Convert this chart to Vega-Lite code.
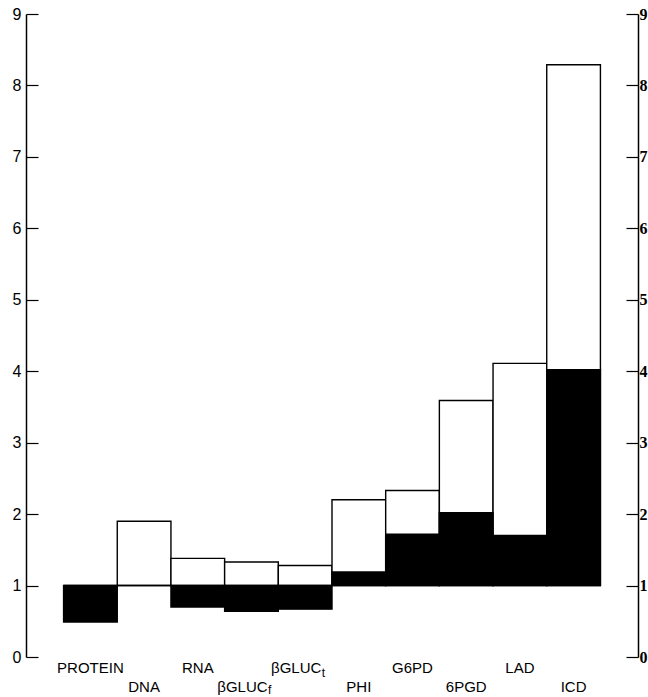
{
  "$schema": "https://vega.github.io/schema/vega-lite/v6.json",
  "width": 612,
  "height": 643,
  "autosize": "none",
  "padding": {"left": 26, "top": 14, "right": 10, "bottom": 40},
  "background": "white",
  "config": {"view": {"stroke": null}},
  "data": {
    "values": [
      {"cat": "PROTEIN", "w": 1.0, "b": 0.49, "sub": ""},
      {"cat": "DNA", "w": 1.9, "b": 1.0, "sub": ""},
      {"cat": "RNA", "w": 1.38, "b": 0.7, "sub": ""},
      {"cat": "βGLUCf", "w": 1.33, "b": 0.64, "sub": "f"},
      {"cat": "βGLUCt", "w": 1.28, "b": 0.67, "sub": "t"},
      {"cat": "PHI", "w": 2.2, "b": 1.19, "sub": ""},
      {"cat": "G6PD", "w": 2.33, "b": 1.72, "sub": ""},
      {"cat": "6PGD", "w": 3.59, "b": 2.02, "sub": ""},
      {"cat": "LAD", "w": 4.11, "b": 1.7, "sub": ""},
      {"cat": "ICD", "w": 8.29, "b": 4.02, "sub": ""}
    ]
  },
  "encoding": {
    "x": {
      "field": "cat",
      "type": "nominal",
      "sort": null,
      "scale": {"paddingInner": 0, "paddingOuter": 0.7},
      "axis": {
        "title": null,
        "domain": false,
        "ticks": false,
        "labelAngle": 0,
        "labelFont": "Liberation Sans",
        "labelFontSize": 15,
        "labelColor": "black",
        "labelBaseline": "top",
        "labelExpr": "datum.value == 'βGLUCf' || datum.value == 'βGLUCt' ? 'βGLUC' : datum.value",
        "labelOffset": {"condition": {"test": "datum.value == 'βGLUCf' || datum.value == 'βGLUCt'", "value": -9}, "value": 0},
        "labelPadding": {"condition": {"test": "indexof(['DNA','βGLUCf','PHI','6PGD','ICD'], datum.value) >= 0", "value": 22}, "value": 3}
      }
    }
  },
  "layer": [
    {
      "mark": {"type": "bar", "fill": "white", "stroke": "black", "strokeWidth": 1.4},
      "encoding": {
        "y": {
          "field": "w",
          "type": "quantitative",
          "scale": {"domain": [0, 9], "nice": false, "zero": true},
          "axis": {
            "orient": "left",
            "title": null,
            "values": [0, 1, 2, 3, 4, 5, 6, 7, 8, 9],
            "grid": false,
            "domainColor": "black",
            "domainWidth": 1.5,
            "tickColor": "black",
            "tickWidth": 1.2,
            "tickSize": -12,
            "labelPadding": 17,
            "labelFont": "Liberation Sans",
            "labelFontSize": 16,
            "labelColor": "black"
          }
        },
        "y2": {"datum": 1}
      }
    },
    {
      "mark": {"type": "bar", "fill": "black", "stroke": "black", "strokeWidth": 1.4},
      "encoding": {
        "y": {
          "field": "b",
          "type": "quantitative",
          "axis": {
            "orient": "right",
            "title": null,
            "values": [0, 1, 2, 3, 4, 5, 6, 7, 8, 9],
            "grid": false,
            "domainColor": "black",
            "domainWidth": 1.5,
            "tickColor": "black",
            "tickWidth": 1.2,
            "tickSize": -12,
            "labelPadding": 13,
            "labelFont": "Liberation Sans Narrow",
            "labelFontSize": 16,
            "labelFontWeight": "bold",
            "labelColor": "black"
          }
        },
        "y2": {"datum": 1}
      }
    },
    {
      "transform": [{"filter": "datum.sub == 't'"}],
      "mark": {"type": "text", "font": "Liberation Sans", "fontSize": 12, "align": "left", "baseline": "top", "dx": 16.5, "dy": 11, "color": "black"},
      "encoding": {
        "y": {"datum": 0, "axis": null},
        "text": {"field": "sub"}
      }
    },
    {
      "transform": [{"filter": "datum.sub == 'f'"}],
      "mark": {"type": "text", "font": "Liberation Sans", "fontSize": 12, "align": "left", "baseline": "top", "dx": 16.5, "dy": 28, "color": "black"},
      "encoding": {
        "y": {"datum": 0, "axis": null},
        "text": {"field": "sub"}
      }
    }
  ],
  "resolve": {"axis": {"y": "independent"}}
}
